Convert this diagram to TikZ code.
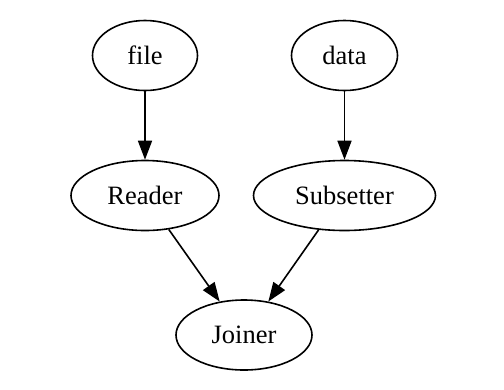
\documentclass[tikz,border=0pt]{standalone}
\usepackage{fontspec}
\setmainfont{Liberation Serif}
\usetikzlibrary{shapes.geometric,arrows.meta}
\begin{document}
\begin{tikzpicture}[
    x=1bp, y=-1bp,
    every node/.style={font=\fontsize{26.5bp}{30bp}\selectfont},
    stage/.style={
        ellipse,
        draw,
        line width=1.6bp,
        inner sep=0pt,
        minimum height=70bp,
        anchor=center,
    },
    flow/.style={
        -{Triangle[length=19bp,width=14bp]},
        line width=1.6bp,
    },
]
\useasboundingbox (0,0) rectangle (504,389);

% Column positions
\def\xL{145}
\def\xR{344.5}
\def\xM{244}

% Row positions
\def\yA{55.5}
\def\yB{195.5}
\def\yC{335}

% --- Sources ---
\node[stage, minimum width=105bp] (file) at (\xL, \yA) {file};
\node[stage, minimum width=106bp] (data) at (\xR, \yA) {data};

% --- Processing ---
\node[stage, minimum width=148bp] (reader) at (\xL, \yB) {Reader};
\node[stage, minimum width=182bp] (subsetter) at (\xR, \yB) {Subsetter};

% --- Sink ---
\node[stage, minimum width=136bp] (joiner) at (\xM, \yC) {Joiner};

% Edges
\draw[flow] (file) -- (reader);
\draw[flow] (data) -- (subsetter);
\draw[flow] (reader.-55) -- (joiner.126);
\draw[flow] (subsetter.-127) -- (joiner.54);

\end{tikzpicture}
\end{document}
